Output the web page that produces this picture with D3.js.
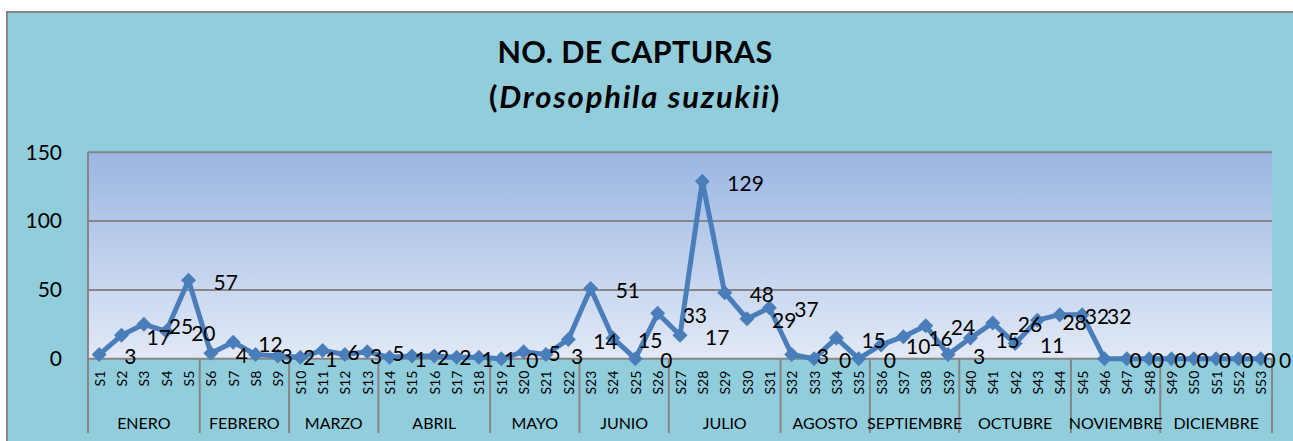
<!DOCTYPE html>
<html>
<head>
<meta charset="utf-8">
<script src="https://cdn.jsdelivr.net/npm/d3@7"></script>
<style>
  html, body { margin: 0; padding: 0; background: #ffffff; }
  svg { display: block; }
  text { font-family: "Lato", "Open Sans", sans-serif; }
</style>
</head>
<body>
<svg id="chart" width="1293" height="441"></svg>
<script>
// ---- data ----
const weeks = ["S1","S2","S3","S4","S5","S6","S7","S8","S9","S10","S11","S12","S13","S14","S15","S16","S17","S18","S19","S20","S21","S22","S23","S24","S25","S26","S27","S28","S29","S30","S31","S32","S33","S34","S35","S36","S37","S38","S39","S40","S41","S42","S43","S44","S45","S46","S47","S48","S49","S50","S51","S52","S53"];
const captures = [3,17,25,20,57,4,12,3,2,1,6,3,5,1,2,2,1,1,0,5,3,14,51,15,0,33,17,129,48,29,37,3,0,15,0,10,16,24,3,15,26,11,28,32,32,0,0,0,0,0,0,0,0];
const months = ["ENERO","FEBRERO","MARZO","ABRIL","MAYO","JUNIO","JULIO","AGOSTO","SEPTIEMBRE","OCTUBRE","NOVIEMBRE","DICIEMBRE"];
const weeksPerMonth = [5,4,4,5,4,4,5,4,4,5,4,5];
const yTicks = [0,50,100,150];
const titleMain = "NO. DE CAPTURAS";
const titleSpecies = "Drosophila suzukii";

// ---- layout ----
const svg = d3.select("#chart");
const plot = { left: 88, right: 1272, top: 152.3, bottom: 358.7 };
const axisBottom = 433;
const labelMaxX = 1279;

const x = d3.scaleBand().domain(weeks).range([plot.left, plot.right]).padding(0);
const y = d3.scaleLinear().domain([0,150]).range([plot.bottom, plot.top]);

// chart frame
svg.append("rect").attr("x", 7).attr("y", 12).attr("width", 1300).attr("height", 440)
  .attr("fill", "#92CDDC").attr("stroke", "#868686").attr("stroke-width", 2);

// plot gradient
const defs = svg.append("defs");
const grad = defs.append("linearGradient").attr("id", "plotGrad")
  .attr("x1", 0).attr("y1", 0).attr("x2", 0).attr("y2", 1);
grad.append("stop").attr("offset", "0%").attr("stop-color", "#9BB6E2");
grad.append("stop").attr("offset", "100%").attr("stop-color", "#E2E9F6");
svg.append("rect").attr("x", plot.left).attr("y", plot.top)
  .attr("width", plot.right - plot.left).attr("height", plot.bottom - plot.top)
  .attr("fill", "url(#plotGrad)");

// title
svg.append("text").attr("x", 635).attr("y", 63).attr("text-anchor", "middle")
  .attr("font-size", 30.5).attr("font-weight", 700).attr("letter-spacing", 0.4)
  .attr("fill", "#000").text(titleMain);
const sub = svg.append("text").attr("x", 635).attr("y", 108).attr("text-anchor", "middle")
  .attr("font-size", 31).attr("font-weight", 700).attr("letter-spacing", 1.8).attr("fill", "#000");
sub.append("tspan").text("(");
sub.append("tspan").attr("font-style", "italic").text(titleSpecies);
sub.append("tspan").text(")");

// gridlines
svg.append("g").selectAll("line").data(yTicks.filter(d => d > 0)).join("line")
  .attr("x1", plot.left).attr("x2", plot.right)
  .attr("y1", d => y(d)).attr("y2", d => y(d))
  .attr("stroke", "#868686").attr("stroke-width", 2);

// y axis
const yAxis = d3.axisLeft(y).tickValues(yTicks).tickSize(0).tickPadding(26);
const gy = svg.append("g").attr("transform", `translate(${plot.left},0)`).call(yAxis);
gy.select(".domain").remove();
gy.selectAll("text").attr("font-size", 21).attr("fill", "#000")
  .attr("font-family", "Lato, 'Open Sans', sans-serif");
svg.append("line").attr("x1", plot.left).attr("x2", plot.left)
  .attr("y1", plot.top).attr("y2", axisBottom)
  .attr("stroke", "#868686").attr("stroke-width", 2);

// x axis (weeks)
const xAxis = d3.axisBottom(x).tickSize(0).tickPadding(0);
const gx = svg.append("g").attr("transform", `translate(0,${plot.bottom})`).call(xAxis);
gx.select(".domain").remove();
gx.selectAll(".tick text")
  .attr("font-size", 14).attr("fill", "#000")
  .attr("font-family", "Lato, 'Open Sans', sans-serif")
  .attr("y", 0).attr("dy", null).attr("x", 0)
  .attr("dominant-baseline", "central")
  .attr("text-anchor", "end")
  .attr("transform", "translate(0,12) rotate(-90)");

// x baseline
svg.append("line").attr("x1", plot.left).attr("x2", plot.right)
  .attr("y1", plot.bottom).attr("y2", plot.bottom)
  .attr("stroke", "#868686").attr("stroke-width", 2);

// month groups
let startIdx = 0;
const groups = weeksPerMonth.map((n, i) => {
  const g = { name: months[i], first: weeks[startIdx], last: weeks[startIdx + n - 1] };
  startIdx += n;
  return g;
});
const mg = svg.append("g");
mg.selectAll("line").data(groups).join("line")
  .attr("x1", d => x(d.last) + x.bandwidth()).attr("x2", d => x(d.last) + x.bandwidth())
  .attr("y1", plot.bottom).attr("y2", axisBottom)
  .attr("stroke", "#868686").attr("stroke-width", 2);
mg.selectAll("text").data(groups).join("text")
  .attr("x", d => (x(d.first) + x(d.last) + x.bandwidth()) / 2)
  .attr("y", 429).attr("text-anchor", "middle")
  .attr("font-size", 16).attr("fill", "#000").text(d => d.name);

// series line
const cx = d => x(d) + x.bandwidth() / 2;
const line = d3.line().x((d, i) => cx(weeks[i])).y(d => y(d));
svg.append("path").datum(captures).attr("d", line)
  .attr("fill", "none").attr("stroke", "#4A7EBB").attr("stroke-width", 5)
  .attr("stroke-linejoin", "round");

// markers
const diamond = d3.symbol().type(d3.symbolSquare).size(112);
svg.append("g").selectAll("path").data(captures).join("path")
  .attr("d", diamond)
  .attr("transform", (d, i) => `translate(${cx(weeks[i])},${y(d)}) rotate(45)`)
  .attr("fill", "#4A7EBB");

// data labels
svg.append("g").selectAll("text").data(captures).join("text")
  .attr("x", (d, i) => Math.min(cx(weeks[i]) + 25, labelMaxX))
  .attr("y", d => y(d) + 1)
  .attr("dominant-baseline", "central")
  .attr("font-size", 21).attr("fill", "#000")
  .text(d => d);
</script>
</body>
</html>
